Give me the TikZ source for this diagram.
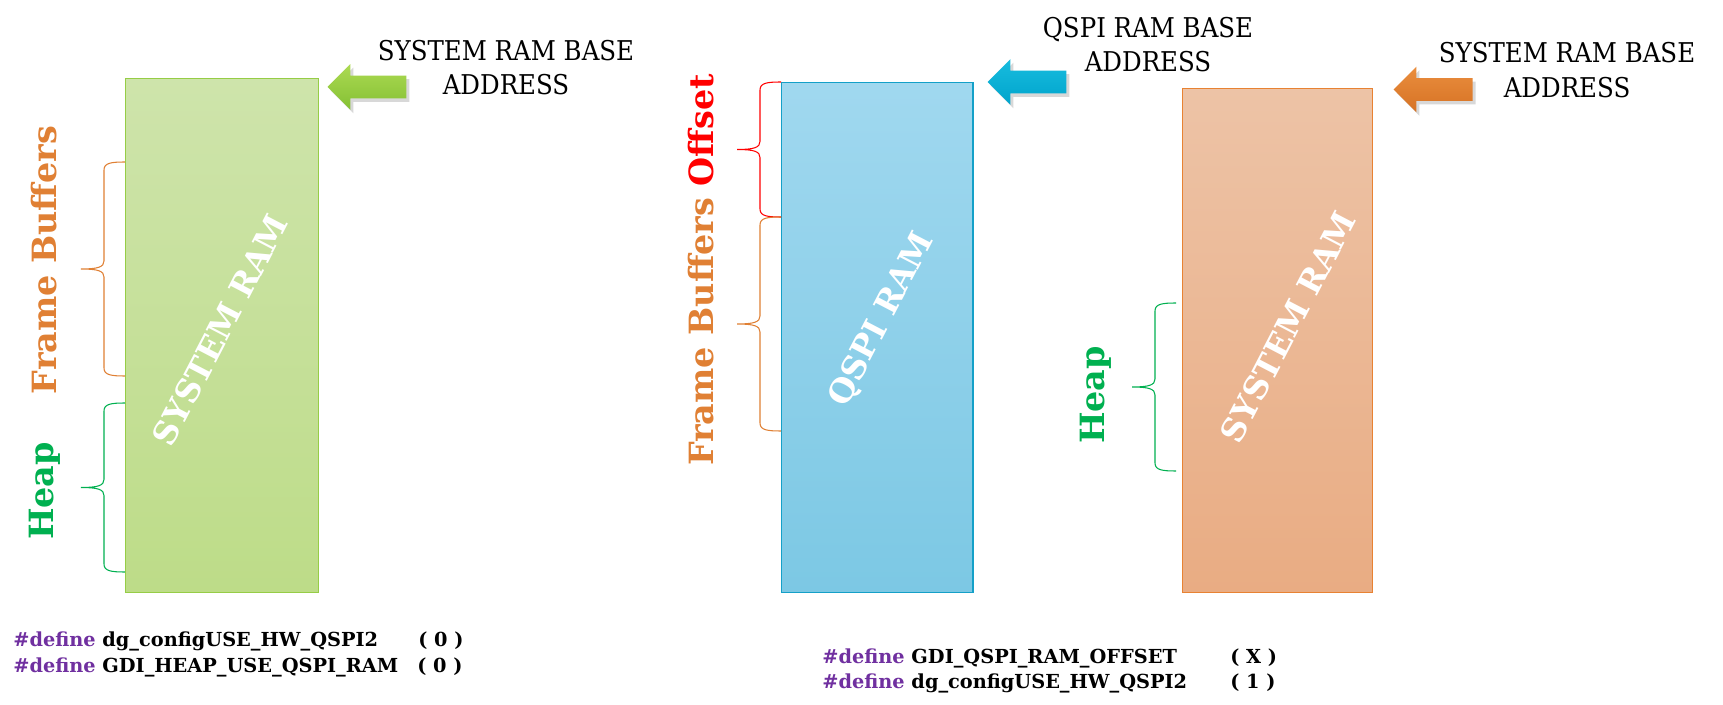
\documentclass[tikz,border=0pt]{standalone}
\usepackage{fontspec}
\setmainfont{DejaVu Serif}
\newfontfamily\addrfont[FakeStretch=0.9]{DejaVu Serif}
\usetikzlibrary{shapes.arrows,shadows}

\definecolor{fbOrange}{RGB}{224,128,52}
\definecolor{heapGreen}{RGB}{0,176,80}
\definecolor{defPurple}{RGB}{112,48,160}
\definecolor{greenTop}{RGB}{206,228,171}
\definecolor{greenBot}{RGB}{189,220,136}
\definecolor{greenEdge}{RGB}{150,205,70}
\definecolor{blueTop}{RGB}{160,216,239}
\definecolor{blueBot}{RGB}{124,200,228}
\definecolor{blueEdge}{RGB}{20,160,200}
\definecolor{orangeTop}{RGB}{237,195,166}
\definecolor{orangeBot}{RGB}{233,172,131}
\definecolor{orangeEdge}{RGB}{232,130,50}
\definecolor{arrGreenTop}{RGB}{172,218,82}
\definecolor{arrGreenBot}{RGB}{132,192,52}
\definecolor{arrBlueTop}{RGB}{24,188,222}
\definecolor{arrBlueBot}{RGB}{0,164,204}
\definecolor{arrOrangeTop}{RGB}{234,142,62}
\definecolor{arrOrangeBot}{RGB}{214,114,36}

\tikzset{
  ramblock/.style={draw, line width=0.6pt, anchor=north west, inner sep=0pt},
  ramlabel/.style={white, rotate=62.5, font=\bfseries\fontsize{18.5}{22}\selectfont},
  blockarrow/.style={single arrow, shape border rotate=180, anchor=tip,
    minimum height=1.58cm, minimum width=0.9cm, single arrow head extend=0.23cm,
    inner xsep=0pt, inner ysep=0.22cm,
    drop shadow={opacity=0.3, shadow xshift=0.06cm, shadow yshift=-0.07cm}},
  addrtext/.style={align=center, font=\addrfont\fontsize{15.5}{19.8}\selectfont},
  regionlabel/.style={rotate=90, font=\bfseries\fontsize{19}{22}\selectfont},
  deftext/.style={anchor=base west, inner sep=0pt, font=\bfseries\fontsize{11}{14}\selectfont},
  bracestroke/.style={line width=0.6pt}
}

% brace pointing left: colour, x of right edge, top y, bottom y
\newcommand{\membrace}[4]{%
  \draw[#1, bracestroke] (#2,#3)
    .. controls ({#2-14},#3) and ({#2-21},{#3+1}) .. ({#2-21},{#3+8})
    -- ({#2-21},{(#3+#4)/2-8})
    .. controls ({#2-21},{(#3+#4)/2-2}) and ({#2-27},{(#3+#4)/2}) .. ({#2-44},{(#3+#4)/2})
    .. controls ({#2-27},{(#3+#4)/2}) and ({#2-21},{(#3+#4)/2+2}) .. ({#2-21},{(#3+#4)/2+8})
    -- ({#2-21},{#4-8})
    .. controls ({#2-21},{#4-1}) and ({#2-14},#4) .. (#2,#4);
}

\begin{document}
\begin{tikzpicture}[x=0.02cm,y=-0.02cm]
	\useasboundingbox[fill=white] (0,0) rectangle (1723,705);

	% system ram, no qspi
	\node[ramblock, minimum width=3.86cm, minimum height=10.28cm, top color=greenTop, bottom color=greenBot, draw=greenEdge] (ramA) at (125,78) {};
	\node[ramlabel] (ramAlabel) at (220,330) {SYSTEM RAM};
	\node[blockarrow, top color=arrGreenTop, bottom color=arrGreenBot] (arrowA) at (327,87) {};
	\node[addrtext] (addrA) at (506,67.5) {SYSTEM RAM BASE\\ADDRESS};

	\membrace{fbOrange}{125}{162}{376}
	\membrace{heapGreen}{125}{403}{572}
	\node[regionlabel, fbOrange] (fbA) at (44,260) {Frame Buffers};
	\node[regionlabel, heapGreen] (heapA) at (45,491) {Heap};

	\node[deftext] (defA1) at (13,646) {\textcolor{defPurple}{\#define} dg\_configUSE\_HW\_QSPI2};
	\node[deftext] (defA2) at (13,672) {\textcolor{defPurple}{\#define} GDI\_HEAP\_USE\_QSPI\_RAM};
	\node[deftext] (valA1) at (418,646) {( 0 )};
	\node[deftext] (valA2) at (417,672) {( 0 )};

	% qspi ram
	\node[ramblock, minimum width=3.83cm, minimum height=10.2cm, top color=blueTop, bottom color=blueBot, draw=blueEdge] (ramB) at (781,82) {};
	\node[ramlabel] (ramBlabel) at (882,320) {QSPI RAM};
	\node[blockarrow, top color=arrBlueTop, bottom color=arrBlueBot] (arrowB) at (987,82) {};
	\node[addrtext] (addrB) at (1148,44.5) {QSPI RAM BASE\\ADDRESS};

	\membrace{red}{781}{82}{217}
	\membrace{fbOrange}{781}{217}{431}
	\node[regionlabel, fbOrange] (fbB) at (701,270) {Frame Buffers \textcolor{red}{Offset}};

	% system ram, qspi enabled
	\node[ramblock, minimum width=3.8cm, minimum height=10.08cm, top color=orangeTop, bottom color=orangeBot, draw=orangeEdge] (ramC) at (1182,88) {};
	\node[ramlabel] (ramClabel) at (1288,327) {SYSTEM RAM};
	\node[blockarrow, top color=arrOrangeTop, bottom color=arrOrangeBot] (arrowC) at (1393,89.5) {};
	\node[addrtext] (addrC) at (1567,70) {SYSTEM RAM BASE\\ADDRESS};

	\membrace{heapGreen}{1176}{303}{471}
	\node[regionlabel, heapGreen] (heapC) at (1096,395) {Heap};

	\node[deftext] (defB1) at (822,663) {\textcolor{defPurple}{\#define} GDI\_QSPI\_RAM\_OFFSET};
	\node[deftext] (defB2) at (822,688) {\textcolor{defPurple}{\#define} dg\_configUSE\_HW\_QSPI2};
	\node[deftext] (valB1) at (1230,663) {( X )};
	\node[deftext] (valB2) at (1230,688) {( 1 )};
\end{tikzpicture}
\end{document}
